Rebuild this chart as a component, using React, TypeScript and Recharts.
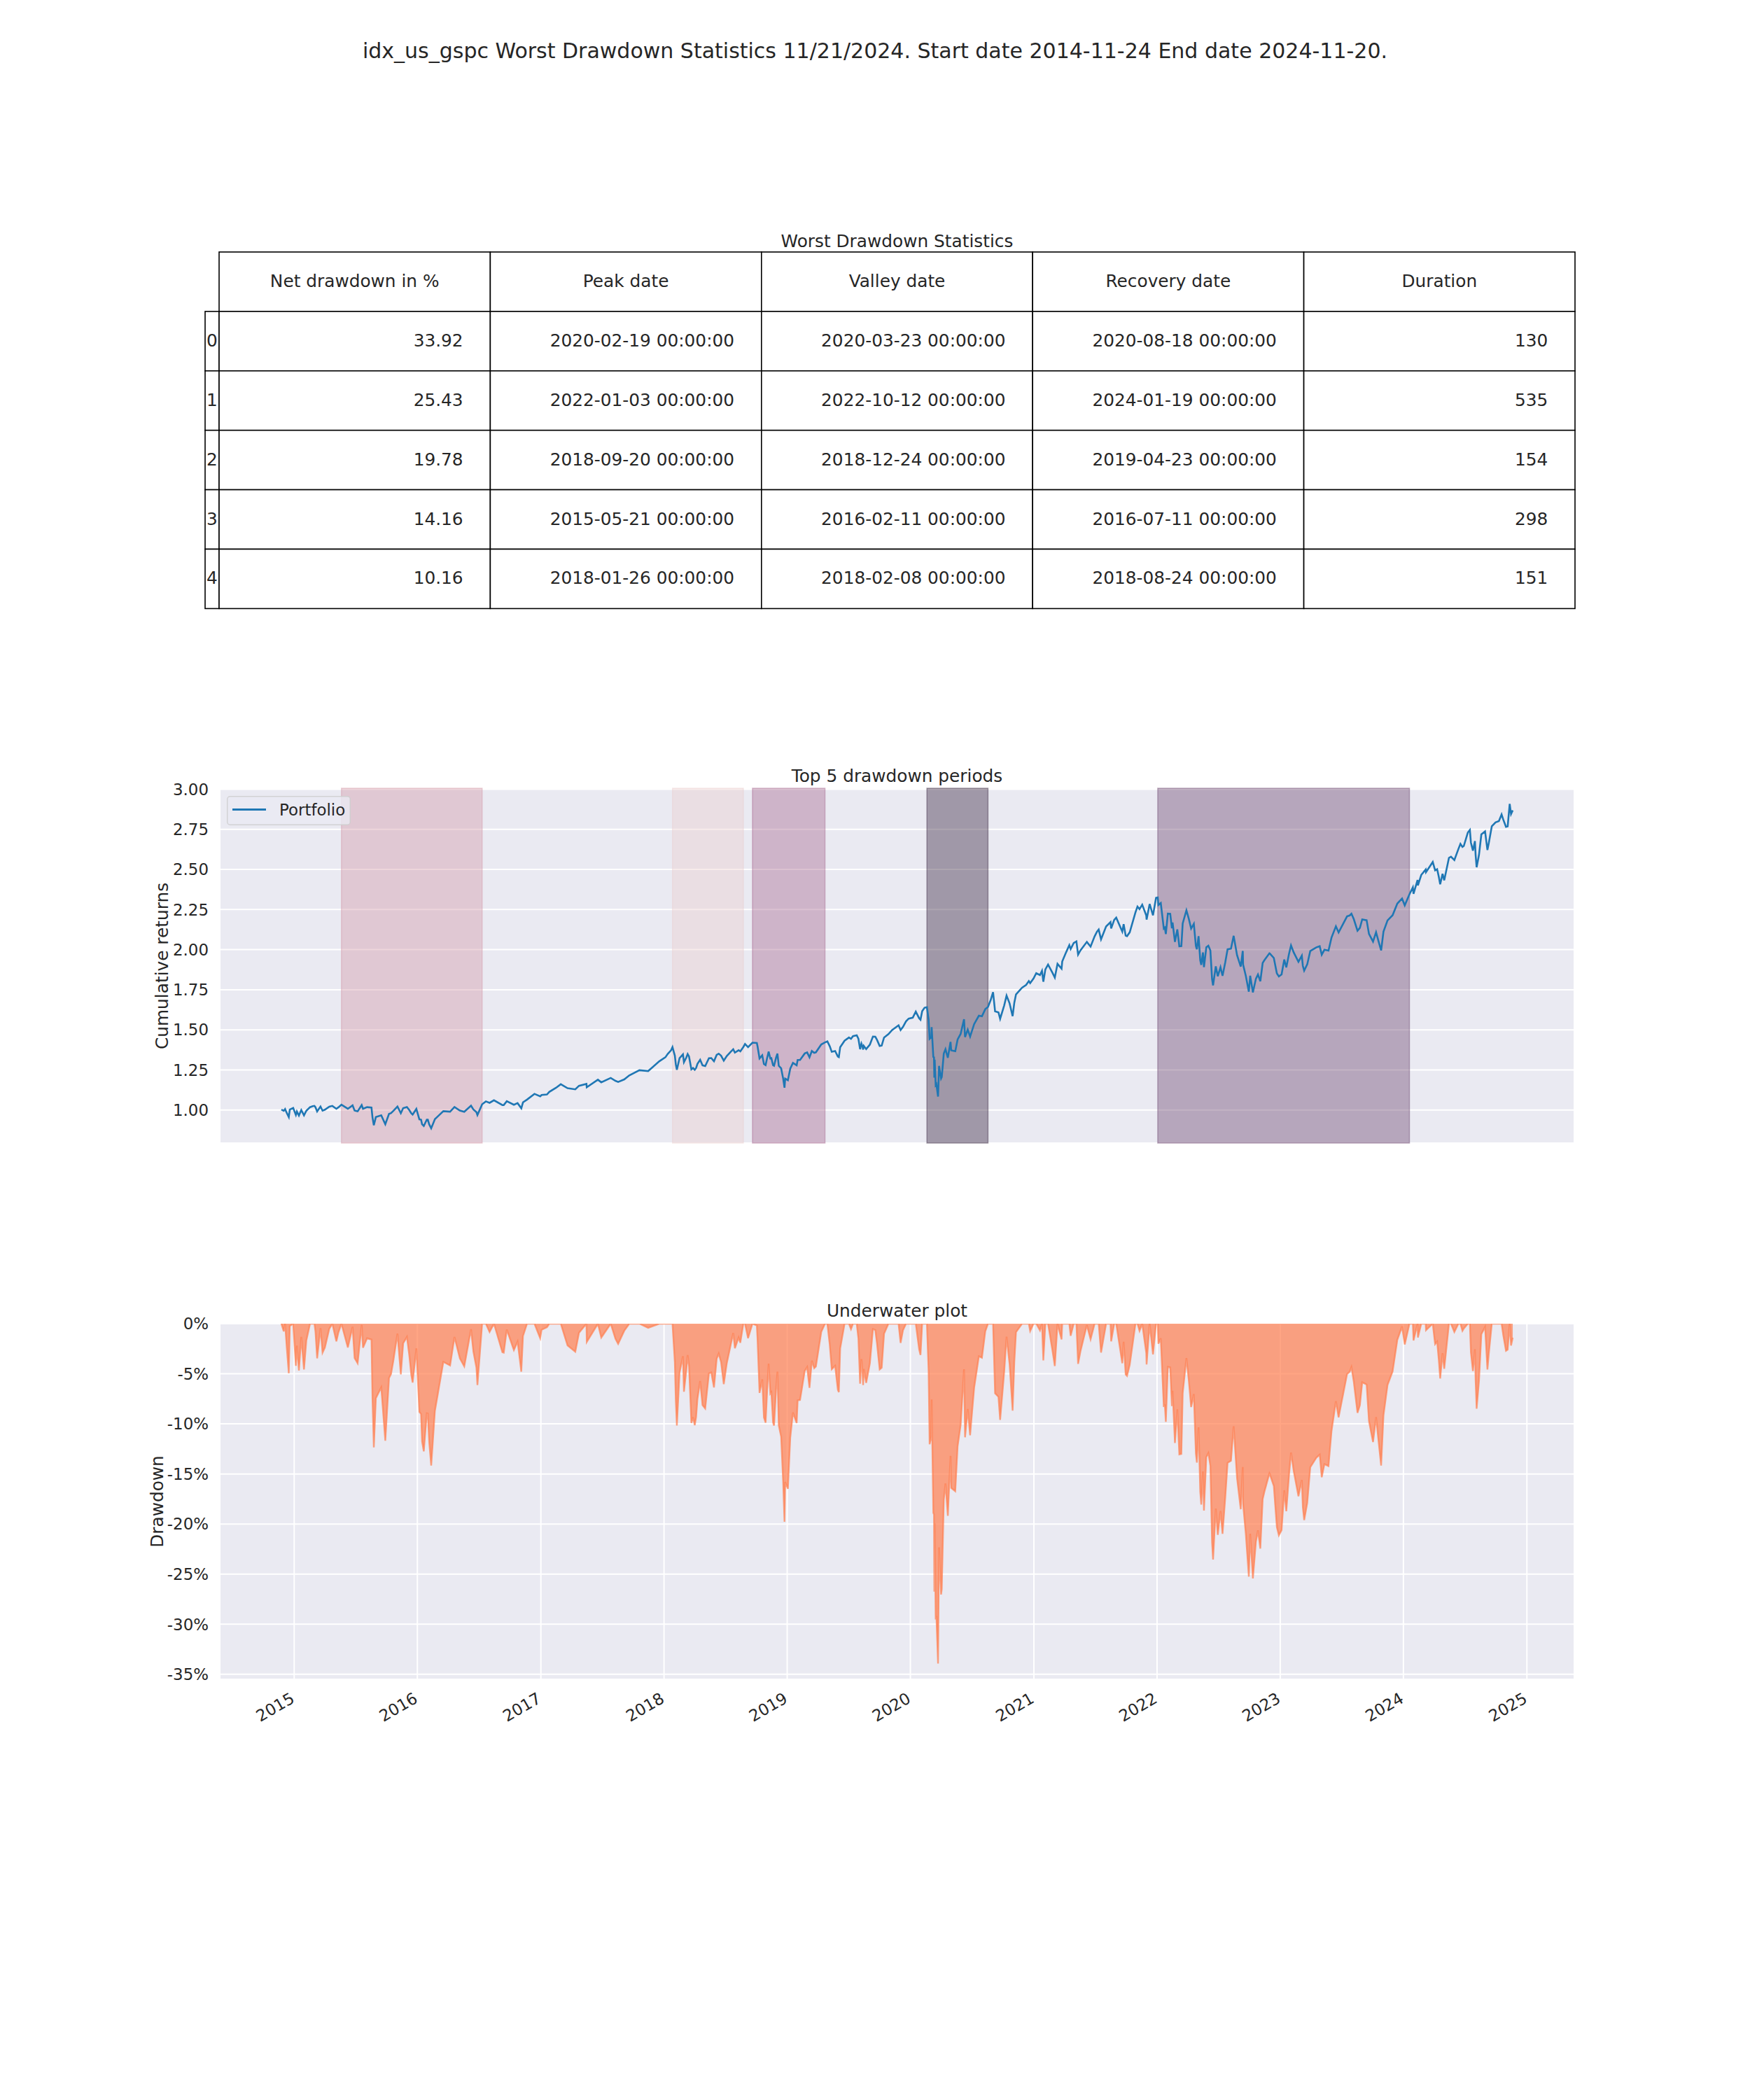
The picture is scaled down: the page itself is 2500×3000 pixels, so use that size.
import React from 'react';
import { LineChart, Line, AreaChart, Area, XAxis, YAxis, CartesianGrid, ReferenceArea, Legend } from 'recharts';

const FONT = '"DejaVu Sans", "Liberation Sans", sans-serif';
const TEXT = '#262626';

// ---------- data ----------
const dates = [
  '2014-11-24','2014-12-01','2014-12-05','2014-12-10','2014-12-16','2014-12-19','2014-12-29',
  '2015-01-06','2015-01-09','2015-01-15','2015-01-22','2015-01-30','2015-02-06','2015-02-17','2015-02-25',
  '2015-03-02','2015-03-10','2015-03-20','2015-03-26','2015-04-02','2015-04-15','2015-04-24','2015-05-06',
  '2015-05-21','2015-06-09','2015-06-23','2015-07-08','2015-07-20','2015-07-24','2015-08-05','2015-08-18',
  '2015-08-21','2015-08-25','2015-08-31','2015-09-16','2015-09-28','2015-10-09','2015-10-22','2015-11-03',
  '2015-11-13','2015-11-20','2015-12-01','2015-12-14','2015-12-29',
  '2016-01-07','2016-01-20','2016-02-01','2016-02-11','2016-02-22','2016-03-01','2016-03-18','2016-04-20',
  '2016-05-19','2016-06-08','2016-06-24','2016-06-27','2016-07-11','2016-07-22','2016-08-15','2016-09-09',
  '2016-09-22','2016-10-13','2016-11-04','2016-11-21','2016-12-13','2016-12-30',
  '2017-01-26','2017-02-15','2017-03-01','2017-03-21','2017-04-13','2017-05-16','2017-05-17','2017-06-19',
  '2017-06-29','2017-07-27','2017-08-10','2017-08-18','2017-09-20','2017-10-20','2017-11-15','2017-12-18',
  '2018-01-12','2018-01-26','2018-02-02','2018-02-05','2018-02-08','2018-02-16','2018-02-26','2018-03-08',
  '2018-03-12','2018-03-23','2018-04-02','2018-04-18','2018-05-03','2018-05-21','2018-06-12','2018-06-27',
  '2018-07-25','2018-08-15','2018-08-24','2018-08-29','2018-09-20','2018-10-05','2018-10-11','2018-10-19',
  '2018-10-29','2018-11-07','2018-11-20','2018-11-23','2018-12-03','2018-12-07','2018-12-14','2018-12-20',
  '2018-12-24','2018-12-26',
  '2019-01-03','2019-01-18','2019-02-01','2019-02-22','2019-03-08','2019-03-22','2019-04-12','2019-04-23',
  '2019-04-30','2019-05-13','2019-05-31','2019-06-20','2019-07-15','2019-07-26','2019-08-05','2019-08-14',
  '2019-08-23','2019-09-19','2019-10-02','2019-10-28','2019-11-27','2019-12-03','2019-12-27',
  '2020-01-17','2020-01-31','2020-02-19','2020-02-24','2020-02-27','2020-03-03','2020-03-04','2020-03-09',
  '2020-03-11','2020-03-12','2020-03-13','2020-03-16','2020-03-18','2020-03-23','2020-03-26','2020-04-01',
  '2020-04-09','2020-04-21','2020-04-29','2020-05-13','2020-06-08','2020-06-11','2020-06-26','2020-07-22',
  '2020-08-18','2020-09-02','2020-09-08','2020-09-23','2020-10-12','2020-10-30','2020-11-09','2020-11-27',
  '2020-12-31',
  '2021-01-25','2021-01-29','2021-02-12','2021-03-04','2021-03-26','2021-04-16','2021-05-07','2021-05-12',
  '2021-06-30','2021-07-12','2021-07-19','2021-08-27','2021-09-02','2021-09-30','2021-10-04','2021-10-29',
  '2021-11-18','2021-11-30','2021-12-01','2021-12-10','2021-12-20','2021-12-29',
  '2022-01-03','2022-01-27','2022-02-02','2022-02-23','2022-03-08','2022-03-29','2022-04-29','2022-05-12',
  '2022-05-20','2022-06-02','2022-06-16','2022-07-08','2022-08-16','2022-09-06','2022-09-12','2022-09-30',
  '2022-10-12','2022-10-27','2022-11-15','2022-11-30','2022-12-13','2022-12-28',
  '2023-01-05','2023-02-02','2023-03-09','2023-03-13','2023-04-28','2023-05-24','2023-06-15','2023-07-31',
  '2023-08-18','2023-09-01','2023-10-27','2023-11-30','2023-12-28',
  '2024-01-05','2024-01-19','2024-02-23','2024-03-28','2024-04-19','2024-05-21','2024-06-28','2024-07-16',
  '2024-07-25','2024-08-05','2024-08-19','2024-08-30','2024-09-06','2024-09-30','2024-10-18','2024-10-31',
  '2024-11-05','2024-11-11','2024-11-15','2024-11-20',
];

const cumulativeReturns = [
  1.003,0.995,1.006,0.982,0.956,1.003,1.013,
  0.970,0.991,0.966,1.000,0.967,0.996,1.018,1.024,
  1.026,0.991,1.022,0.996,1.002,1.021,1.026,1.008,
  1.033,1.008,1.029,0.992,1.031,1.008,1.018,1.016,
  0.955,0.905,0.956,0.967,0.912,0.976,0.995,1.022,
  0.980,1.012,1.019,0.980,1.007,
  0.942,0.901,0.940,0.886,0.943,0.959,0.993,1.019,
  0.989,1.027,0.987,0.969,1.036,1.054,1.061,1.031,
  1.055,1.033,1.011,1.065,1.101,1.085,
  1.113,1.139,1.161,1.136,1.129,1.163,1.142,1.189,
  1.173,1.200,1.182,1.175,1.216,1.248,1.243,1.304,
  1.350,1.392,1.339,1.284,1.251,1.324,1.347,1.327,
  1.349,1.254,1.251,1.313,1.274,1.324,1.351,1.308,
  1.379,1.366,1.393,1.412,1.420,1.398,1.322,1.341,
  1.280,1.364,1.280,1.276,1.352,1.276,1.260,1.196,
  1.139,1.196,
  1.186,1.294,1.312,1.353,1.329,1.357,1.409,1.422,
  1.428,1.363,1.334,1.432,1.461,1.466,1.379,1.377,
  1.380,1.457,1.399,1.473,1.528,1.499,1.570,
  1.614,1.563,1.641,1.563,1.444,1.455,1.517,1.331,
  1.329,1.202,1.314,1.156,1.162,1.084,1.275,1.197,
  1.352,1.326,1.425,1.367,1.566,1.455,1.458,1.588,
  1.643,1.735,1.615,1.569,1.713,1.585,1.721,1.763,
  1.820,
  1.868,1.800,1.907,1.826,1.926,2.028,2.051,1.969,
  2.083,2.125,2.064,2.185,2.199,2.087,2.084,2.232,
  2.280,2.213,2.187,2.284,2.214,2.323,
  2.325,2.097,2.224,2.048,2.021,2.245,2.002,1.905,
  1.891,2.024,1.777,1.890,2.086,1.894,1.992,1.738,
  1.733,1.845,1.934,1.977,1.948,1.833,
  1.845,2.026,1.899,1.869,2.021,1.994,2.145,2.224,
  2.118,2.188,1.995,2.214,2.318,
  2.276,2.345,2.466,2.546,2.407,2.579,2.646,2.746,
  2.617,2.513,2.718,2.737,2.621,2.793,2.842,2.765,
  2.768,2.908,2.845,2.868,
];

const drawdownPct = [
  0,-0.77,0,-2.38,-4.95,-0.23,0,
  -4.21,-2.19,-4.68,-1.31,-4.57,-1.68,0,0,
  0,-3.46,-0.44,-2.89,-2.38,-0.51,0,-1.77,
  0,-2.37,-0.31,-3.95,-0.12,-2.40,-1.45,-1.59,
  -7.50,-12.35,-7.44,-6.36,-11.69,-5.44,-3.67,-0.99,
  -5.06,-1.95,-1.32,-5.11,-2.46,
  -8.81,-12.74,-8.98,-14.16,-8.70,-7.15,-3.81,-1.33,
  -4.26,-0.55,-4.38,-6.12,0,0,0,-2.85,
  -0.59,-2.63,-4.79,0,0,-1.45,
  0,0,0,-2.17,-2.80,0,-1.82,0,
  -1.38,0,-1.50,-2.01,0,0,-0.41,0,
  0,0,-3.86,-7.80,-10.16,-4.90,-3.25,-4.66,
  -3.13,-9.91,-10.13,-5.72,-8.47,-4.87,-2.99,-6.03,
  -0.93,-1.90,0,0,0,-1.54,-6.91,-5.56,
  -9.88,-3.99,-9.86,-10.17,-4.79,-10.16,-11.29,-15.81,
  -19.78,-15.80,
  -16.48,-8.87,-7.65,-4.71,-6.40,-4.44,-0.80,0,
  0,-4.55,-6.58,0,0,0,-5.99,-6.12,
  -5.91,-0.63,-4.57,0,0,-1.92,0,
  0,-3.13,0,-4.73,-12.03,-11.30,-7.56,-18.89,
  -19.04,-26.74,-19.94,-29.53,-29.18,-33.93,-22.33,-27.04,
  -17.61,-19.18,-13.19,-16.72,-4.54,-11.34,-11.14,-3.25,
  0,0,-6.95,-9.60,-1.30,-8.68,-0.85,0,
  0,
  0,-3.66,0,-4.23,0,0,0,-4.01,
  0,0,-2.88,0,0,-5.06,-5.21,0,
  0,-2.92,-4.07,0,-3.06,0,
  0,-9.80,-4.32,-11.91,-13.05,-3.44,-13.86,-18.06,
  -18.66,-12.92,-23.55,-18.70,-10.24,-18.52,-14.31,-25.25,
  -25.43,-20.63,-16.78,-14.94,-16.20,-21.13,
  -20.61,-12.86,-18.31,-19.61,-13.07,-14.21,-7.73,-4.33,
  -8.90,-5.85,-14.16,-4.77,-0.28,
  -2.07,0,0,0,-5.47,0,-0.48,0,
  -4.73,-8.49,-1.04,-0.33,-4.57,0,0,-2.71,
  -2.59,0,-2.18,-1.40,
];

// additional in-between readings (same three series)
const datesExtra = [
  '2015-03-05','2015-05-12','2015-06-29','2015-10-15','2015-12-08','2015-12-18','2016-01-12','2016-01-15',
  '2016-01-29','2016-02-05','2016-04-07','2016-05-06','2016-06-15','2016-08-02','2016-09-13','2016-10-24',
  '2016-11-09','2017-01-03','2017-01-19','2017-04-24','2017-09-05','2018-01-05','2018-01-22','2018-02-12',
  '2018-03-01','2018-03-16','2018-03-28','2018-04-06','2018-04-10','2018-04-25','2018-05-14','2018-05-29',
  '2018-06-06','2018-06-19','2018-07-06','2018-07-17','2018-07-30','2018-08-10','2018-09-07','2018-10-03',
  '2018-10-24','2018-11-02','2018-11-12','2018-11-15','2018-11-29','2019-01-10','2019-01-29','2019-02-08',
  '2019-03-01','2019-03-15','2019-03-27','2019-05-07','2019-05-23','2019-06-03','2019-06-07','2019-07-03',
  '2019-07-09','2019-07-31','2019-08-09','2019-08-12','2019-08-16','2019-09-03','2019-09-12','2019-09-24',
  '2019-10-08','2019-10-15','2019-11-08','2019-12-10','2019-12-19','2020-01-08','2020-01-27','2020-02-05',
  '2020-02-12','2020-04-03','2020-04-14','2020-05-01','2020-05-20','2020-05-29','2020-06-19','2020-07-08',
  '2020-07-31','2020-08-10','2020-08-26','2020-09-18','2020-10-05','2020-10-21','2020-11-04','2020-12-09',
  '2020-12-17','2020-12-21','2021-01-08','2021-01-19','2021-02-04','2021-02-25','2021-03-12','2021-03-24',
  '2021-04-05','2021-04-20','2021-04-29','2021-05-19','2021-06-07','2021-06-18','2021-07-07','2021-08-03',
  '2021-08-16','2021-08-18','2021-09-20','2021-09-24','2021-10-12','2021-11-04','2021-11-10','2022-01-05',
  '2022-01-12','2022-01-21','2022-01-24','2022-02-09','2022-02-14','2022-02-16','2022-03-02','2022-03-14',
  '2022-03-18','2022-04-05','2022-04-12','2022-04-20','2022-04-26','2022-05-04','2022-05-09','2022-05-17',
  '2022-05-27','2022-06-08','2022-06-13','2022-06-24','2022-06-30','2022-07-14','2022-07-22','2022-07-29',
  '2022-08-08','2022-08-26','2022-09-13','2022-09-21','2022-10-04','2022-10-21','2022-11-03','2022-11-10',
  '2022-12-01','2022-12-22','2023-01-13','2023-01-19','2023-01-27','2023-02-10','2023-02-24','2023-03-06',
  '2023-03-22','2023-03-31','2023-04-18','2023-05-04','2023-05-12','2023-06-02','2023-06-23','2023-07-18',
  '2023-07-26','2023-08-07','2023-08-25','2023-09-14','2023-09-21','2023-10-03','2023-10-12','2023-10-20',
  '2023-11-03','2023-11-15','2023-12-14','2024-01-29','2024-01-31','2024-02-12','2024-02-13','2024-03-07',
  '2024-03-08','2024-04-04','2024-04-10','2024-04-15','2024-04-26','2024-05-01','2024-05-15','2024-05-31',
  '2024-06-12','2024-06-18','2024-06-24','2024-07-10','2024-07-19','2024-07-31','2024-08-02','2024-08-12',
  '2024-09-10','2024-09-19','2024-10-10','2024-10-23',
];
const cumExtra = [
  1.018,1.017,0.997,0.981,1.000,0.972,0.940,0.911,
  0.940,0.911,0.990,0.997,1.004,1.045,1.031,1.043,
  1.048,1.094,1.097,1.151,1.191,1.329,1.373,1.287,
  1.298,1.334,1.262,1.262,1.288,1.279,1.323,1.304,
  1.344,1.339,1.337,1.362,1.358,1.373,1.392,1.418,
  1.287,1.320,1.321,1.323,1.327,1.258,1.279,1.312,
  1.359,1.368,1.360,1.398,1.368,1.330,1.392,1.452,
  1.444,1.444,1.414,1.397,1.400,1.408,1.458,1.438,
  1.402,1.452,1.499,1.518,1.553,1.576,1.572,1.616,
  1.638,1.206,1.379,1.372,1.440,1.475,1.501,1.536,
  1.585,1.629,1.686,1.609,1.652,1.665,1.669,1.780,
  1.804,1.791,1.853,1.841,1.876,1.856,1.911,1.881,
  1.976,2.004,2.041,1.995,2.048,2.019,2.112,2.144,
  2.171,2.132,2.112,2.159,2.108,2.268,2.252,2.278,
  2.290,2.131,2.137,2.223,2.133,2.169,2.126,2.022,
  2.163,2.193,2.131,2.161,2.023,2.084,1.934,1.982,
  2.015,1.995,1.817,1.896,1.834,1.837,1.920,2.002,
  2.006,1.966,1.906,1.837,1.837,1.819,1.803,1.917,
  1.976,1.852,1.938,1.889,1.973,1.982,1.924,1.962,
  1.908,1.991,2.014,1.968,1.999,2.075,2.107,2.207,
  2.213,2.190,2.135,2.183,2.098,2.050,2.108,2.047,
  2.112,2.182,2.287,2.388,2.348,2.434,2.400,2.499,
  2.483,2.494,2.501,2.453,2.472,2.432,2.572,2.558,
  2.627,2.659,2.640,2.730,2.668,2.676,2.591,2.590,
  2.663,2.769,2.801,2.810,
];
const ddExtra = [
  -0.77,-0.88,-3.44,-5.02,-3.15,-5.88,-9.02,-11.76,
  -8.95,-11.77,-4.17,-3.46,-2.78,-0.83,-2.89,-1.78,
  -1.23,-0.61,-0.35,-0.91,-0.71,0,0,-7.55,
  -6.79,-4.21,-9.33,-9.34,-7.52,-8.13,-4.97,-6.37,
  -3.50,-3.84,-3.94,-2.20,-2.45,-1.38,-1.45,-0.18,
  -9.37,-7.09,-6.98,-6.84,-6.59,-11.40,-9.92,-7.61,
  -4.34,-3.70,-4.28,-2.09,-4.20,-6.83,-2.46,0,
  -0.54,-1.50,-3.54,-4.72,-4.53,-3.95,-0.54,-1.96,
  -4.39,-1.00,0,-0.67,0,0,-2.57,0,
  0,-26.50,-15.95,-16.40,-12.24,-10.10,-8.52,-6.39,
  -3.40,-0.76,0,-7.30,-4.81,-4.05,-3.84,0,
  0,-0.74,0,-0.67,0,-2.68,0,-1.57,
  0,-1.21,0,-2.76,-0.14,-1.56,0,0,
  0,-1.77,-3.95,-1.80,-4.11,0,-0.71,-2.00,
  -1.46,-8.31,-8.06,-4.37,-8.23,-6.70,-8.55,-13.00,
  -6.95,-5.66,-8.32,-7.03,-12.95,-10.35,-16.79,-14.75,
  -13.31,-14.19,-21.83,-18.45,-21.08,-20.98,-17.41,-13.89,
  -13.69,-15.40,-18.01,-20.99,-20.97,-21.76,-22.45,-17.52,
  -15.01,-20.31,-16.63,-18.72,-15.14,-14.72,-17.23,-15.60,
  -17.92,-14.33,-13.38,-15.33,-14.02,-10.72,-9.35,-5.04,
  -4.79,-5.80,-8.15,-6.08,-9.73,-11.82,-9.32,-11.93,
  -9.14,-6.12,-1.61,0,-1.67,0,-1.37,0,
  -0.65,-2.04,-1.79,-3.67,-2.94,-4.49,0,-0.82,
  0,0,-0.71,0,-2.86,-2.56,-5.66,-5.70,
  -3.03,0,0,-1.15,
];

const yearTicks = ['2015','2016','2017','2018','2019','2020','2021','2022','2023','2024','2025'];
const cumTicks = [1.0, 1.25, 1.5, 1.75, 2.0, 2.25, 2.5, 2.75, 3.0];
const ddTicks = [0, -5, -10, -15, -20, -25, -30, -35];

// table
const tableColumns = ['Net drawdown in %', 'Peak date', 'Valley date', 'Recovery date', 'Duration'];
const netDrawdown = [33.92, 25.43, 19.78, 14.16, 10.16];
const peakDates = ['2020-02-19', '2022-01-03', '2018-09-20', '2015-05-21', '2018-01-26'];
const valleyDates = ['2020-03-23', '2022-10-12', '2018-12-24', '2016-02-11', '2018-02-08'];
const recoveryDates = ['2020-08-18', '2024-01-19', '2019-04-23', '2016-07-11', '2018-08-24'];
const durations = [130, 535, 154, 298, 151];
const spanColors = ['#311D39', '#68406B', '#A6658B', '#D195A4', '#EACECC'];

// ---------- helpers ----------
const ts = (d: string) => Date.parse(d + 'T00:00:00Z');
const rows = [
  ...dates.map((d, i) => ({ t: ts(d), cum: cumulativeReturns[i], dd: drawdownPct[i] })),
  ...datesExtra.map((d, i) => ({ t: ts(d), cum: cumExtra[i], dd: ddExtra[i] })),
].sort((a, b) => a.t - b.t);
const startT = ts(dates[0]);
const endT = ts(dates[dates.length - 1]);
const pad = (endT - startT) * 0.05;
const xDomain: [number, number] = [startT - pad, endT + pad];
const yearTs = yearTicks.map((y) => ts(y + '-01-01'));

const YTickCum = (props: any) => {
  const { x, y, payload } = props;
  return (
    <text x={x} y={y} dy={8.3} textAnchor="end" fontSize={22.9} fontFamily={FONT} fill={TEXT}>
      {Number(payload.value).toFixed(2)}
    </text>
  );
};
const YTickDD = (props: any) => {
  const { x, y, payload } = props;
  return (
    <text x={x} y={y} dy={8.3} textAnchor="end" fontSize={22.9} fontFamily={FONT} fill={TEXT}>
      {`${payload.value}%`}
    </text>
  );
};
const XTickYear = (props: any) => {
  const { x, y, payload } = props;
  const ax = x + 2;
  return (
    <text x={ax} y={y} textAnchor="end" transform={`rotate(-30 ${ax} ${y})`} fontSize={22.9} fontFamily={FONT} fill={TEXT}>
      {new Date(payload.value).getUTCFullYear()}
    </text>
  );
};

const LegendBox = () => (
  <svg width={177} height={42} style={{ display: 'block' }}>
    <rect x={0.75} y={0.75} width={175.5} height={40.5} rx={4} ry={4} fill="#EAEAF2" fillOpacity={0.8} stroke="#CCCCCC" strokeOpacity={0.8} strokeWidth={1.5} />
    <line x1={8} x2={56} y1={19.5} y2={19.5} stroke="#1f77b4" strokeWidth={2.8} />
    <text x={75} y={27.5} fontSize={22.9} fontFamily={FONT} fill={TEXT}>Portfolio</text>
  </svg>
);

// table geometry
const tLeft = 313;
const tRight = 2250;
const idxLeft = 293;
const tTop = 360;
const rowH = 84.9;
const colW = (tRight - tLeft) / 5;

const Table = () => {
  const cells: any[] = [];
  const body = netDrawdown.map((v, i) => [
    v.toFixed(2),
    peakDates[i] + ' 00:00:00',
    valleyDates[i] + ' 00:00:00',
    recoveryDates[i] + ' 00:00:00',
    String(durations[i]),
  ]);
  tableColumns.forEach((c, j) => {
    const x = tLeft + j * colW;
    cells.push(<rect key={'h' + j} x={x} y={tTop} width={colW} height={rowH} fill="white" stroke="#000" strokeWidth={1.6} />);
    cells.push(
      <text key={'ht' + j} x={x + colW / 2} y={tTop + rowH / 2 + 7.5} textAnchor="middle" fontSize={24.8} fontFamily={FONT} fill={TEXT}>
        {c}
      </text>
    );
  });
  body.forEach((r, i) => {
    const y = tTop + (i + 1) * rowH;
    cells.push(<rect key={'i' + i} x={idxLeft} y={y} width={tLeft - idxLeft} height={rowH} fill="white" stroke="#000" strokeWidth={1.6} />);
    cells.push(
      <text key={'it' + i} x={idxLeft + 2} y={y + rowH / 2 + 7.5} textAnchor="start" fontSize={24.8} fontFamily={FONT} fill={TEXT}>
        {i}
      </text>
    );
    r.forEach((v, j) => {
      const x = tLeft + j * colW;
      cells.push(<rect key={'c' + i + '_' + j} x={x} y={y} width={colW} height={rowH} fill="white" stroke="#000" strokeWidth={1.6} />);
      cells.push(
        <text key={'ct' + i + '_' + j} x={x + colW - 0.1 * colW} y={y + rowH / 2 + 7.5} textAnchor="end" fontSize={24.8} fontFamily={FONT} fill={TEXT}>
          {v}
        </text>
      );
    });
  });
  return <g>{cells}</g>;
};

export default function App() {
  return (
    <div style={{ position: 'absolute', left: 0, top: 0, width: 2500, height: 3000, background: '#fff', fontFamily: FONT }}>
      <svg width={2500} height={1000} style={{ position: 'absolute', left: 0, top: 0 }}>
        <text x={1250} y={83} textAnchor="middle" fontSize={30} fontFamily={FONT} fill={TEXT}>
          idx_us_gspc Worst Drawdown Statistics 11/21/2024. Start date 2014-11-24 End date 2024-11-20.
        </text>
        <text x={1281.5} y={353} textAnchor="middle" fontSize={24.8} fontFamily={FONT} fill={TEXT}>
          Worst Drawdown Statistics
        </text>
        <Table />
      </svg>

      {/* Top 5 drawdown periods */}
      <div style={{ position: 'absolute', left: 0, top: 1050 }}>
        <svg width={2500} height={76} style={{ position: 'absolute', left: 0, top: 0 }}>
          <text x={1281.5} y={67} textAnchor="middle" fontSize={24.8} fontFamily={FONT} fill={TEXT}>Top 5 drawdown periods</text>
        </svg>
        <svg width={260} height={650} style={{ position: 'absolute', left: 0, top: 0 }}>
          <text transform={`rotate(-90 240 330)`} x={240} y={330} textAnchor="middle" fontSize={24.8} fontFamily={FONT} fill={TEXT}>
            Cumulative returns
          </text>
        </svg>
        <LineChart width={2500} height={650} data={rows} margin={{ top: 76, right: 251, bottom: 37, left: 214 }}>
          <CartesianGrid stroke="#ffffff" strokeWidth={2} fill="#EAEAF2" fillOpacity={1} />
          <XAxis dataKey="t" type="number" domain={xDomain} ticks={yearTs} interval={0} allowDataOverflow height={30} tick={false} tickLine={false} axisLine={false} />
          <YAxis type="number" domain={[0.794, 3.006]} ticks={cumTicks} interval={0} allowDataOverflow width={100} tickSize={0} tickMargin={16} tickLine={false} axisLine={false} tick={<YTickCum />} />
          {peakDates.map((p, i) => (
            <ReferenceArea key={p} x1={ts(p)} x2={ts(recoveryDates[i])} fill={spanColors[i]} fillOpacity={0.4} stroke={spanColors[i]} strokeOpacity={0.4} strokeWidth={1.5} ifOverflow="visible" />
          ))}
          <Legend layout="horizontal" verticalAlign="middle" align="center" wrapperStyle={{ left: 324, top: 87, width: 177, height: 42 }} content={() => <LegendBox />} />
          <Line type="linear" dataKey="cum" name="Portfolio" stroke="#1f77b4" strokeWidth={2.6} dot={false} isAnimationActive={false} />
        </LineChart>
      </div>

      {/* Underwater plot */}
      <div style={{ position: 'absolute', left: 0, top: 1850 }}>
        <svg width={2500} height={41} style={{ position: 'absolute', left: 0, top: 0 }}>
          <text x={1281.5} y={31} textAnchor="middle" fontSize={24.8} fontFamily={FONT} fill={TEXT}>Underwater plot</text>
        </svg>
        <svg width={260} height={620} style={{ position: 'absolute', left: 0, top: 0 }}>
          <text transform={`rotate(-90 233 295)`} x={233} y={295} textAnchor="middle" fontSize={24.8} fontFamily={FONT} fill={TEXT}>
            Drawdown
          </text>
        </svg>
        <AreaChart width={2500} height={620} data={rows} margin={{ top: 41, right: 251, bottom: 21, left: 214 }}>
          <CartesianGrid stroke="#ffffff" strokeWidth={2} fill="#EAEAF2" fillOpacity={1} />
          <XAxis dataKey="t" type="number" domain={xDomain} ticks={yearTs} interval={0} allowDataOverflow height={50} tickSize={0} tickMargin={32} tickLine={false} axisLine={false} tick={<XTickYear />} />
          <YAxis type="number" domain={[-35.5, 0]} ticks={ddTicks} interval={0} allowDataOverflow width={100} tickSize={0} tickMargin={16} tickLine={false} axisLine={false} tick={<YTickDD />} />
          <Area type="linear" dataKey="dd" baseValue={0} stroke="coral" strokeOpacity={0.7} strokeWidth={2.4} fill="coral" fillOpacity={0.7} dot={false} activeDot={false} isAnimationActive={false} />
        </AreaChart>
      </div>
    </div>
  );
}
